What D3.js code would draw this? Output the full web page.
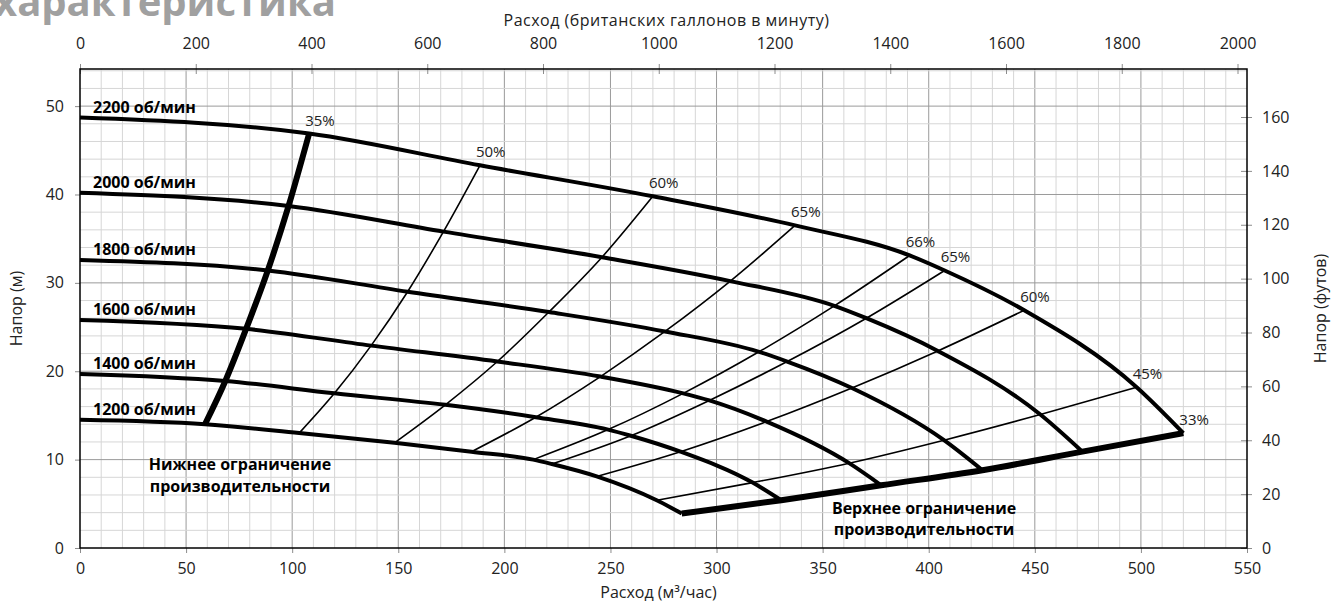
<!DOCTYPE html>
<html>
    <head>
        <meta charset="utf-8">
        <style>
            body { margin: 0; background: #fff; }
            text { font-family: "Open Sans", "DejaVu Sans", sans-serif; fill: #222; }
            .axis path { display: none; }
            .axis line { stroke: #8c8c8c; }
            .axis text { font-size: 16px; }
        </style>
    </head>
    <body>
        <div id="chart"></div>
        <script src="https://d3js.org/d3.v7.min.js"></script>
        <script>
            // speed curves: shut-off head, then the crossing with each efficiency line
            const speeds = [2200, 2000, 1800, 1600, 1400, 1200];
            const effLabels = ['35%', '50%', '60%', '65%', '66%', '65%', '60%', '45%', '33%'];

            const flow2200 = [0, 108, 188.5, 270, 337, 391, 407.5, 445, 498, 520];
            const head2200 = [48.7, 46.9, 43.3, 39.8, 36.5, 33.1, 31.4, 26.9, 18.2, 13.0];
            const flow2000 = [0, 98.3, 171.3, 246, 306.5, 355.5, 370.6, 404.3, 452.6, 472.4];
            const head2000 = [40.2, 38.7, 35.8, 32.9, 30.2, 27.4, 26.0, 22.3, 15.1, 10.9];
            const flow1800 = [0, 88.5, 154.4, 221, 275.7, 320, 333.3, 363.8, 407.2, 425.3];
            const head1800 = [32.6, 31.4, 29.0, 26.7, 24.5, 22.2, 21.1, 18.1, 12.2, 8.8];
            const flow1600 = [0, 78.3, 137.2, 196.7, 245.3, 284.3, 296.6, 323.6, 362.5, 377.6];
            const head1600 = [25.8, 24.8, 22.9, 21.1, 19.4, 17.5, 16.7, 14.3, 9.6, 7.1];
            const flow1400 = [0, 68.5, 119.9, 172.2, 214.8, 248.9, 259.6, 283, 317, 330.5];
            const head1400 = [19.7, 18.9, 17.5, 16.2, 14.8, 13.4, 12.7, 10.9, 7.4, 5.4];
            const flow1200 = [0, 58.9, 103.3, 148.2, 184.5, 213.6, 222.4, 243.5, 271.8, 283.6];
            const head1200 = [14.5, 14.0, 13.0, 11.9, 10.9, 10.0, 9.5, 8.1, 5.4, 3.9];

            const flowTicks = [0, 50, 100, 150, 200, 250, 300, 350, 400, 450, 500, 550];
            const gallonTicks = [0, 200, 400, 600, 800, 1000, 1200, 1400, 1600, 1800, 2000];
            const headTicks = [0, 10, 20, 30, 40, 50];
            const feetTicks = [0, 20, 40, 60, 80, 100, 120, 140, 160];

            const flows = [flow2200, flow2000, flow1800, flow1600, flow1400, flow1200];
            const heads = [head2200, head2000, head1800, head1600, head1400, head1200];

            const width = 1334, height = 602;
            const margin = { top: 69, right: 87, bottom: 54, left: 80 };
            const maxFlow = 550, maxHead = 54.2;

            const xScale = d3.scaleLinear().domain([0, maxFlow]).range([margin.left, width - margin.right]);
            const yScale = d3.scaleLinear().domain([0, maxHead]).range([height - margin.bottom, margin.top]);
            // UK gallons per minute and feet, same span as the metric axes
            const xGal = d3.scaleLinear().domain([0, maxFlow * 3.6662]).range(xScale.range());
            const yFt = d3.scaleLinear().domain([0, maxHead * 3.28084]).range(yScale.range());

            const svg = d3.select('#chart')
                .append('svg')
                .attr('width', width)
                .attr('height', height);

            // cut off heading at the very top
            svg.append('text')
                .attr('x', -6)
                .attr('y', 16)
                .style('font-size', '40px')
                .style('font-weight', 'bold')
                .style('fill', '#a0a0a0')
                .text('характеристика');

            // grid
            const grid = svg.append('g');
            grid.selectAll('.vminor')
                .data(d3.range(10, maxFlow, 10))
                .enter().append('line')
                .attr('x1', d => xScale(d)).attr('x2', d => xScale(d))
                .attr('y1', yScale(0)).attr('y2', yScale(maxHead))
                .attr('stroke', d => d % 50 === 0 ? '#9a9a9a' : '#d6d6d6')
                .attr('stroke-width', 1);
            grid.selectAll('.hminor')
                .data(d3.range(2, maxHead, 2))
                .enter().append('line')
                .attr('x1', xScale(0)).attr('x2', xScale(maxFlow))
                .attr('y1', d => yScale(d)).attr('y2', d => yScale(d))
                .attr('stroke', d => d % 10 === 0 ? '#9a9a9a' : '#d6d6d6')
                .attr('stroke-width', 1);

            // axes
            svg.append('g')
                .attr('class', 'axis')
                .attr('transform', `translate(0,${yScale(0)})`)
                .call(d3.axisBottom(xScale).tickValues(flowTicks).tickSize(5).tickPadding(10));

            svg.append('g')
                .attr('class', 'axis')
                .attr('transform', `translate(${xScale(0)},0)`)
                .call(d3.axisLeft(yScale).tickValues(headTicks).tickSize(5).tickPadding(11));

            svg.append('g')
                .attr('class', 'axis')
                .attr('transform', `translate(0,${yScale(maxHead) + 5})`)
                .call(d3.axisTop(xGal).tickValues(gallonTicks).tickFormat(d3.format('d'))
                    .tickSize(10).tickPadding(15));

            svg.append('g')
                .attr('class', 'axis')
                .attr('transform', `translate(${xScale(maxFlow) - 6},0)`)
                .call(d3.axisRight(yFt).tickValues(feetTicks).tickSize(11).tickPadding(10));

            // frame
            svg.append('rect')
                .attr('x', xScale(0)).attr('y', yScale(maxHead))
                .attr('width', xScale(maxFlow) - xScale(0))
                .attr('height', yScale(0) - yScale(maxHead))
                .attr('fill', 'none')
                .attr('stroke', '#000')
                .attr('stroke-width', 1.5);

            // axis titles
            const midX = (xScale(0) + xScale(maxFlow)) / 2;
            const midY = (yScale(0) + yScale(maxHead)) / 2;
            svg.append('text').attr('x', midX - 5).attr('y', 598)
                .attr('text-anchor', 'middle').style('font-size', '16px')
                .text('Расход (м³/час)');
            svg.append('text').attr('x', midX + 3).attr('y', 26)
                .attr('text-anchor', 'middle').style('font-size', '16px')
                .style('letter-spacing', '0.5px')
                .text('Расход (британских галлонов в минуту)');
            svg.append('text')
                .attr('transform', `translate(22,${midY}) rotate(-90)`)
                .attr('text-anchor', 'middle').style('font-size', '16px')
                .text('Напор (м)');
            svg.append('text')
                .attr('transform', `translate(1326,${midY}) rotate(-90)`)
                .attr('text-anchor', 'middle').style('font-size', '16px')
                .text('Напор (футов)');

            const line = d3.line()
                .x(d => xScale(d[0]))
                .y(d => yScale(d[1]))
                .curve(d3.curveMonotoneX);

            // efficiency lines: same crossing index on every speed curve
            const effLines = effLabels.map((label, j) => ({
                label: label,
                pts: flows.map((f, k) => [f[j + 1], heads[k][j + 1]]).reverse()
            }));

            svg.selectAll('.eff')
                .data(effLines)
                .enter().append('path')
                .attr('d', d => line(d.pts))
                .attr('fill', 'none')
                .attr('stroke', '#000')
                .attr('stroke-width', (d, i) => (i === 0 || i === effLines.length - 1) ? 6 : 1.6);

            // speed curves
            svg.selectAll('.speed')
                .data(speeds)
                .enter().append('path')
                .attr('d', (d, i) => line(flows[i].map((f, j) => [f, heads[i][j]])))
                .attr('fill', 'none')
                .attr('stroke', '#000')
                .attr('stroke-width', 4)
                .attr('stroke-linejoin', 'round');

            // speed labels
            svg.selectAll('.speedLabel')
                .data(speeds)
                .enter().append('text')
                .attr('x', 93)
                .attr('y', (d, i) => yScale(heads[i][0]) - 5)
                .style('font-size', '16px')
                .style('font-weight', 'bold')
                .style('fill', '#000')
                .text(d => `${d} об/мин`);

            // efficiency labels along the top curve
            svg.selectAll('.effLabel')
                .data(effLines)
                .enter().append('text')
                .attr('x', (d, j) => xScale(flow2200[j + 1]) - 4)
                .attr('y', (d, j) => yScale(head2200[j + 1]) - 8)
                .style('font-size', '15px')
                .text(d => d.label);

            // limit notes
            const lowNote = svg.append('text')
                .attr('text-anchor', 'middle')
                .style('font-size', '16px')
                .style('font-weight', 'bold')
                .style('fill', '#000');
            lowNote.append('tspan').attr('x', 240).attr('y', 470).text('Нижнее ограничение');
            lowNote.append('tspan').attr('x', 240).attr('y', 492).text('производительности');

            const highNote = svg.append('text')
                .attr('text-anchor', 'middle')
                .style('font-size', '16px')
                .style('font-weight', 'bold')
                .style('fill', '#000');
            highNote.append('tspan').attr('x', 924).attr('y', 514).text('Верхнее ограничение');
            highNote.append('tspan').attr('x', 924).attr('y', 535).text('производительности');
        </script>
    </body>
</html>
